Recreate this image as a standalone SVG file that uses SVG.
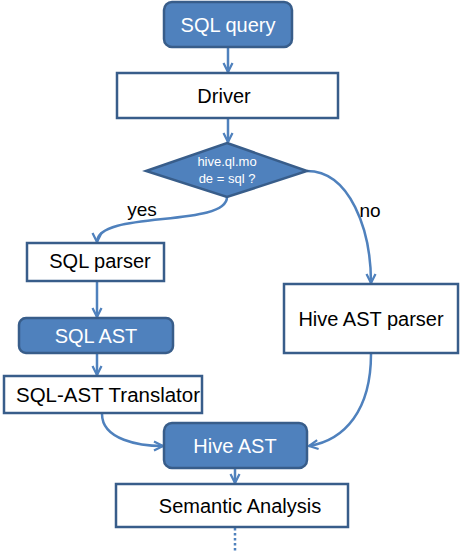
<svg xmlns="http://www.w3.org/2000/svg" width="463" height="552" viewBox="0 0 463 552">
<defs>
<style>
.blue{fill:#4F81BD;stroke:#385D8A;stroke-width:2.5}
.white{fill:#FFFFFF;stroke:#385D8A;stroke-width:2.5}
.wt{fill:#FFFFFF;font-family:"Liberation Sans",Arial,sans-serif;font-size:20px;text-anchor:middle}
.bt{fill:#000000;font-family:"Liberation Sans",Arial,sans-serif;font-size:20px;text-anchor:middle}
.lbl{fill:#000000;font-family:"Liberation Sans",Arial,sans-serif;font-size:19px;text-anchor:middle}
.con{fill:none;stroke:#4F81BD;stroke-width:2.5}
</style>
<marker id="arr" viewBox="0 0 10 10" refX="9" refY="5" markerWidth="4.5" markerHeight="4.5" orient="auto" markerUnits="strokeWidth">
<path d="M1,1 L9,5 L1,9" fill="none" stroke="#4F81BD" stroke-width="2"/>
</marker>
</defs>
<rect width="463" height="552" fill="#FFFFFF"/>
<g id="connectors">
<path class="con" d="M228,48 L228,72" marker-end="url(#arr)"/>
<path class="con" d="M228,119 L228,142" marker-end="url(#arr)"/>
<path class="con" d="M227,197 C227,228 97,210 97,242" marker-end="url(#arr)"/>
<path class="con" d="M307,171 C350,171 371,230 371,283" marker-end="url(#arr)"/>
<path class="con" d="M97,282 L97,317" marker-end="url(#arr)"/>
<path class="con" d="M97,354 L97,375" marker-end="url(#arr)"/>
<path class="con" d="M102,414 C102,440 140,446 163,446" marker-end="url(#arr)"/>
<path class="con" d="M371,354 C371,410 345,440 309,446" marker-end="url(#arr)"/>
<path class="con" d="M235,469 L235,483" marker-end="url(#arr)"/>
<path class="con" d="M235,528 L235,552" stroke-dasharray="2.5,2.5"/>
</g>
<g id="sql-query">
<rect class="blue" x="164" y="2" width="128" height="45" rx="8"/>
<text class="wt" x="228" y="32">SQL query</text>
</g>
<g id="driver">
<rect class="white" x="117" y="73" width="221" height="45"/>
<text class="bt" x="224" y="103">Driver</text>
</g>
<g id="decision">
<polygon class="blue" points="227,143 307,171 227,197 146,171"/>
<text class="wt" x="227" y="166" style="font-size:13px">hive.ql.mo</text>
<text class="wt" x="227" y="183" style="font-size:13px">de = sql ?</text>
</g>
<text class="lbl" x="142" y="216">yes</text>
<text class="lbl" x="370" y="217">no</text>
<g id="sql-parser">
<rect class="white" x="27" y="243" width="137" height="38"/>
<text class="bt" x="100" y="268">SQL parser</text>
</g>
<g id="sql-ast">
<rect class="blue" x="19" y="318" width="154" height="35" rx="7"/>
<text class="wt" x="96" y="343">SQL AST</text>
</g>
<g id="sql-ast-translator">
<rect class="white" x="4" y="376" width="198" height="37"/>
<text class="bt" x="108" y="402" textLength="184" lengthAdjust="spacingAndGlyphs">SQL-AST Translator</text>
</g>
<g id="hive-ast-parser">
<rect class="white" x="284" y="284" width="174" height="69"/>
<text class="bt" x="371" y="326">Hive AST parser</text>
</g>
<g id="hive-ast">
<rect class="blue" x="164" y="423" width="143" height="45" rx="8"/>
<text class="wt" x="235" y="453">Hive AST</text>
</g>
<g id="semantic-analysis">
<rect class="white" x="116" y="484" width="232" height="43"/>
<text class="bt" x="240" y="513">Semantic Analysis</text>
</g>
</svg>
